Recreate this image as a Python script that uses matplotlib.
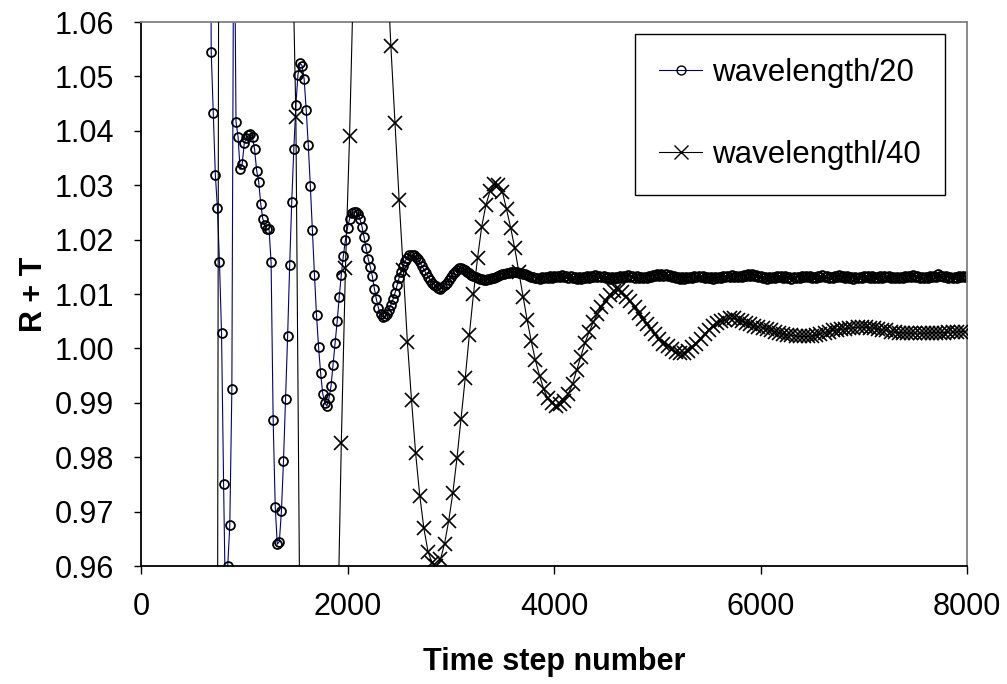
import numpy as np
import matplotlib
matplotlib.use("Agg")
import matplotlib.pyplot as plt

plt.rcParams['font.family'] = ['Liberation Sans', 'DejaVu Sans']

# ---- data: wavelength/20 (every 20 time steps, starting at step 660) ----
t20_start, t20_step = 660, 20
v20 = [
    1.15, 1.0545, 1.0433, 1.0319, 1.0259, 1.0159, 1.0028, 0.9751, 0.950, 0.9600,
    0.9675, 0.9925, 1.0925, 1.0417, 1.0389, 1.0329, 1.0339, 1.0377, 1.0386, 1.0392,
    1.0395, 1.0388, 1.0366, 1.0327, 1.0306, 1.0265, 1.0238, 1.0226, 1.0219, 1.0220,
    1.0158, 0.9868, 0.9709, 0.9640, 0.9645, 0.9701, 0.9793, 0.9907, 1.0022, 1.0153,
    1.0270, 1.0366, 1.0447, 1.0503, 1.0524, 1.0520, 1.0495, 1.0439, 1.0374, 1.0299,
    1.0218, 1.0135, 1.0061, 1.0002, 0.9954, 0.9917, 0.9900, 0.9894, 0.9908, 0.9930,
    0.9970, 1.0010, 1.0050, 1.0095, 1.0135, 1.0170, 1.0200, 1.0222, 1.0238, 1.0248,
    1.0251, 1.0251, 1.0247, 1.0238, 1.0224, 1.0205, 1.0184, 1.0165, 1.0150, 1.0133,
    1.0110, 1.0090, 1.0074, 1.0063, 1.0058, 1.0059, 1.0064, 1.0071, 1.0080, 1.0090,
    1.0102, 1.0116, 1.0130, 1.0141, 1.0152, 1.0161, 1.0167, 1.0171, 1.0172, 1.0171,
    1.0168, 1.0164, 1.0158, 1.0152, 1.0145, 1.0138, 1.0132, 1.0126, 1.0121, 1.0117,
    1.0114, 1.0111, 1.0110, 1.0112, 1.0116, 1.0121, 1.0126, 1.0131, 1.0136, 1.0141,
    1.0145, 1.0147, 1.0147, 1.0146, 1.0144, 1.0141, 1.0138, 1.0135, 1.0133, 1.0131,
    1.0129, 1.0128, 1.0127, 1.0126, 1.0126, 1.0127, 1.0128, 1.0129, 1.0130, 1.0132,
    1.0133, 1.0135, 1.0136, 1.0137, 1.0138, 1.0139, 1.0140, 1.0141, 1.0141, 1.0140,
    1.0139, 1.0138, 1.0137, 1.0136, 1.0135, 1.0133, 1.0132, 1.0131, 1.0130, 1.0130,
    1.0128, 1.0131, 1.0129, 1.0132, 1.0129, 1.0133, 1.0130, 1.0134, 1.0131, 1.0134,
    1.0132, 1.0135, 1.0131, 1.0134, 1.0130, 1.0133, 1.0129, 1.0132, 1.0128, 1.0131,
    1.0128, 1.0132, 1.0129, 1.0133, 1.0130, 1.0134, 1.0131, 1.0135, 1.0132, 1.0134,
    1.0131, 1.0133, 1.0130, 1.0132, 1.0128, 1.0131, 1.0128, 1.0132, 1.0129, 1.0133,
    1.0130, 1.0134, 1.0131, 1.0135, 1.0132, 1.0134, 1.0130, 1.0133, 1.0129, 1.0132,
    1.0129, 1.0132, 1.0130, 1.0133, 1.0131, 1.0135, 1.0133, 1.0136, 1.0134, 1.0137,
    1.0134, 1.0136, 1.0133, 1.0135, 1.0131, 1.0134, 1.0130, 1.0132, 1.0128, 1.0131,
    1.0128, 1.0131, 1.0129, 1.0132, 1.0130, 1.0133, 1.0131, 1.0134, 1.0131, 1.0133,
    1.0130, 1.0132, 1.0129, 1.0131, 1.0128, 1.0131, 1.0129, 1.0132, 1.0130, 1.0133,
    1.0131, 1.0134, 1.0132, 1.0135, 1.0132, 1.0134, 1.0131, 1.0133, 1.0132, 1.0135,
    1.0133, 1.0137, 1.0134, 1.0137, 1.0133, 1.0135, 1.0131, 1.0133, 1.0129, 1.0132,
    1.0128, 1.0131, 1.0129, 1.0132, 1.0130, 1.0133, 1.0131, 1.0134, 1.0130, 1.0133,
    1.0129, 1.0132, 1.0128, 1.0131, 1.0129, 1.0132, 1.0130, 1.0133, 1.0131, 1.0134,
    1.0131, 1.0133, 1.0130, 1.0132, 1.0129, 1.0133, 1.0131, 1.0135, 1.0132, 1.0134,
    1.0130, 1.0132, 1.0129, 1.0133, 1.0131, 1.0135, 1.0132, 1.0134, 1.0130, 1.0133,
    1.0129, 1.0132, 1.0128, 1.0131, 1.0129, 1.0132, 1.0130, 1.0133, 1.0131, 1.0134,
    1.0130, 1.0133, 1.0129, 1.0132, 1.0129, 1.0133, 1.0130, 1.0134, 1.0131, 1.0133,
    1.0130, 1.0132, 1.0129, 1.0131, 1.0129, 1.0132, 1.0130, 1.0133, 1.0131, 1.0134,
    1.0132, 1.0135, 1.0131, 1.0133, 1.0130, 1.0132, 1.0129, 1.0132, 1.0130, 1.0133,
    1.0131, 1.0134, 1.0132, 1.0136, 1.0133, 1.0134, 1.0131, 1.0133, 1.0130, 1.0132,
    1.0129, 1.0132, 1.0130, 1.0133, 1.0131, 1.0134, 1.0132, 1.0133,
]

# ---- data: wavelengthl/40 (every 40 time steps, starting at step 700) ----
t40_start, t40_step = 700, 40
v40 = [
    0.60, 0.93, 1.40, 1.43, 1.45, 1.46, 1.46, 1.45, 1.43, 1.40,
    1.37, 1.33, 1.29, 1.25, 1.21, 1.17, 1.14, 1.11, 1.095, 1.081,
    1.0426, 0.945, 0.925, 0.910, 0.900, 0.895, 0.893, 0.897, 0.905, 0.920,
    0.943, 0.9826, 1.0147, 1.0390, 1.0700, 1.085, 1.095, 1.100, 1.100, 1.097,
    1.090, 1.082, 1.072, 1.0556, 1.0414, 1.0273, 1.0145, 1.0012, 0.9905, 0.9807,
    0.9729, 0.9669, 0.9626, 0.9606, 0.9600, 0.9612, 0.9641, 0.9683, 0.9734, 0.9798,
    0.9871, 0.9945, 1.0025, 1.0100, 1.0167, 1.0224, 1.0263, 1.0289, 1.0302, 1.0301,
    1.0288, 1.0256, 1.0222, 1.0184, 1.0140, 1.0095, 1.0052, 1.0013, 0.9978, 0.9950,
    0.9925, 0.9908, 0.9899, 0.9895, 0.9897, 0.9903, 0.9917, 0.9935, 0.9960, 0.9985,
    1.0010, 1.0030, 1.0048, 1.0063, 1.0076, 1.0088, 1.0098, 1.0105, 1.0108, 1.0103,
    1.0094, 1.0087, 1.0077, 1.0065, 1.0054, 1.0045, 1.0036, 1.0026, 1.0017, 1.0009,
    1.0004, 0.9998, 0.9993, 0.9991, 0.9992, 0.9996, 1.0002, 1.0009, 1.0017, 1.0026,
    1.0034, 1.0041, 1.0046, 1.0050, 1.0053, 1.0055, 1.0055, 1.0053, 1.0050, 1.0047,
    1.0044, 1.0042, 1.0040, 1.0038, 1.0035, 1.0033, 1.0031, 1.0029, 1.0027, 1.0025,
    1.0024, 1.0023, 1.0022, 1.0022, 1.0022, 1.0023, 1.0025, 1.0027, 1.0029, 1.0031,
    1.0033, 1.0034, 1.0035, 1.0036, 1.0037, 1.0038, 1.0039, 1.0039, 1.0039, 1.0038,
    1.0037, 1.0035, 1.0034, 1.0033, 1.0031, 1.0030, 1.0029, 1.0029, 1.0028, 1.0028,
    1.0028, 1.0028, 1.0028, 1.0028, 1.0029, 1.0029, 1.0029, 1.0029, 1.0030, 1.0030,
    1.0030, 1.0031, 1.0031,
]

labels = ['wavelength/20', 'wavelengthl/40']
x_ticks = [0, 2000, 4000, 6000, 8000]
y_ticks = [0.96, 0.97, 0.98, 0.99, 1.00, 1.01, 1.02, 1.03, 1.04, 1.05, 1.06]

t20 = t20_start + t20_step * np.arange(len(v20))
t40 = t40_start + t40_step * np.arange(len(v40))

W, H = 1007, 684
fig = plt.figure(figsize=(W / 100, H / 100), dpi=100)
ax = fig.add_axes([141 / W, (H - 566) / H, 826 / W, 544 / H])

ax.plot(t20, v20, color='#000080', lw=0.8, marker='o', ms=6.4, mfc='none',
        mec='black', mew=1.3, label=labels[0], zorder=2)
ax.plot(t40, v40, color='black', lw=0.8, marker='x', ms=9.4, mew=1.2,
        label=labels[1], zorder=3)

ax.set_xlim(0, 8000)
ax.set_ylim(0.96, 1.06)
ax.set_xticks(x_ticks)
ax.set_yticks(y_ticks)
ax.set_yticklabels([f'{v:.2f}' for v in y_ticks])

for s in ['top', 'right']:
    ax.spines[s].set_color('#808080')
    ax.spines[s].set_linewidth(1.3)
for s in ['left', 'bottom']:
    ax.spines[s].set_color('black')
    ax.spines[s].set_linewidth(1.3)

ax.tick_params(direction='out', length=5.4, width=1.0, labelsize=22)
ax.tick_params(axis='x', pad=13)
ax.tick_params(axis='y', pad=14)

ax.set_xlabel('Time step number', fontsize=22, fontweight='bold', labelpad=18)
ax.set_ylabel('R + T', fontsize=22, fontweight='bold', labelpad=4)

leg = ax.legend(loc='upper left', bbox_to_anchor=(0.598, 0.978), frameon=True,
                fancybox=False, edgecolor='black', framealpha=1, fontsize=22.5,
                handlelength=1.36, handletextpad=0.32, labelspacing=1.66,
                borderpad=0.78, borderaxespad=0)
leg.get_frame().set_linewidth(1.0)
for h in leg.legend_handles:
    h.set_markeredgewidth(1.0)

fig.savefig('out.png', dpi=100)
